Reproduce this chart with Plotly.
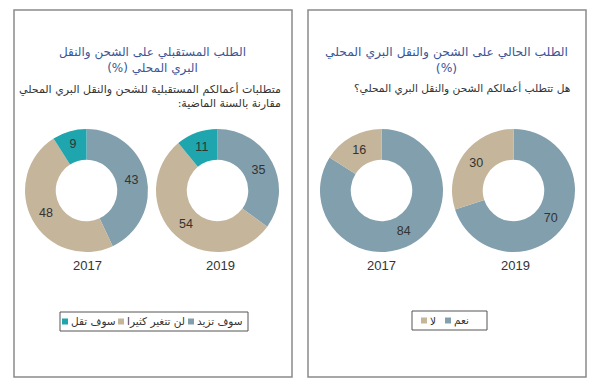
import plotly.graph_objects as go

# Data
years = ["2017", "2019"]

future_labels = ["سوف تزيد", "لن تتغير كثيرا", "سوف تقل"]
future_2017 = [43, 48, 9]
future_2019 = [35, 54, 11]
future_colors = ["#829fad", "#c5b59a", "#1fa5ad"]

current_labels = ["نعم", "لا"]
current_2017 = [84, 16]
current_2019 = [70, 30]
current_colors = ["#829fad", "#c5b59a"]

# The page body has an 8px margin; figure sized so that it fits the 600x391 window.
OFF = 8
W, H = 600 - 2 * OFF, 391 - 2 * OFF
RLM = "\u200f"


def px(x):
    return (x - OFF) / W


def py(y):
    return 1 - (y - OFF) / H


def dom(cx, cy, r):
    return dict(x=[px(cx - r), px(cx + r)], y=[py(cy + r), py(cy - r)])


fig = go.Figure()

pie_common = dict(
    hole=0.5,
    sort=False,
    direction="clockwise",
    rotation=0,
    textinfo="value",
    textposition="inside",
    insidetextorientation="horizontal",
    textfont=dict(family="Liberation Sans, Arial, sans-serif", size=12.5, color="#333333"),
    hoverinfo="label+value",
    showlegend=False,
)

R = 61.5
fig.add_trace(go.Pie(labels=future_labels, values=future_2017,
                     marker=dict(colors=future_colors, line=dict(width=0)),
                     domain=dom(86.5, 190.5, R), **pie_common))
fig.add_trace(go.Pie(labels=future_labels, values=future_2019,
                     marker=dict(colors=future_colors, line=dict(width=0)),
                     domain=dom(217.5, 190.5, R), **pie_common))
fig.add_trace(go.Pie(labels=current_labels, values=current_2017,
                     marker=dict(colors=current_colors, line=dict(width=0)),
                     domain=dom(381.5, 190.5, R), **pie_common))
fig.add_trace(go.Pie(labels=current_labels, values=current_2019,
                     marker=dict(colors=current_colors, line=dict(width=0)),
                     domain=dom(513.5, 190.5, R), **pie_common))

# Panel frames
for x0, x1 in [(14, 292), (308, 586)]:
    fig.add_shape(type="rect", xref="paper", yref="paper",
                  x0=px(x0), x1=px(x1), y0=py(377), y1=py(10),
                  line=dict(color="#8a8a8a", width=1.5), fillcolor="rgba(0,0,0,0)")

arfont = "DejaVu Sans, Noto Sans, sans-serif"
title_color = "#3b5798"

annotations = [
    dict(x=px(152), y=py(60), text="الطلب المستقبلي على الشحن والنقل<br>البري المحلي (%)" + RLM,
         xanchor="center", yanchor="middle", align="center",
         font=dict(family=arfont, size=12, color=title_color)),
    dict(x=px(283), y=py(96), text="متطلبات أعمالكم المستقبلية للشحن والنقل البري المحلي<br>مقارنة بالسنة الماضية:" + RLM,
         xanchor="right", yanchor="middle", align="right",
         font=dict(family=arfont, size=11, color="#333333")),
    dict(x=px(446), y=py(60), text="الطلب الحالي على الشحن والنقل البري المحلي<br>(%)",
         xanchor="center", yanchor="middle", align="center",
         font=dict(family=arfont, size=12.3, color=title_color)),
    dict(x=px(572), y=py(88), text="هل تتطلب أعمالكم الشحن والنقل البري المحلي؟" + RLM,
         xanchor="right", yanchor="middle", align="right",
         font=dict(family=arfont, size=10.6, color="#333333")),
]
for cx, yr in zip([87, 220, 381, 515], years * 2):
    annotations.append(dict(x=px(cx), y=py(265), text=yr, xanchor="center", yanchor="middle",
                            font=dict(family="Liberation Sans, Arial, sans-serif", size=13, color="#333333")))


# legends built from the label/colour arrays (right-to-left reading order)
def add_legend(labels, colors, box, sq_x, yc):
    x0, x1, y0, y1 = box
    fig.add_shape(type="rect", xref="paper", yref="paper", x0=px(x0), x1=px(x1), y0=py(y1), y1=py(y0),
                  line=dict(color="#555555", width=1), fillcolor="white")
    for lab, col, sx in zip(labels, colors, sq_x):
        fig.add_shape(type="rect", xref="paper", yref="paper", x0=px(sx), x1=px(sx + 6),
                      y0=py(yc + 3), y1=py(yc - 3), line=dict(width=0), fillcolor=col)
        annotations.append(dict(x=px(sx + 7), y=py(yc), text=lab, xanchor="left", yanchor="middle",
                                font=dict(family=arfont, size=10.5, color="#333333")))


add_legend(future_labels[::-1], future_colors[::-1], (60, 248, 312, 331), [62, 118, 188], 321.5)
add_legend(current_labels[::-1], current_colors[::-1], (412, 487, 311, 330), [421, 445], 320.5)

for a in annotations:
    a.update(xref="paper", yref="paper", showarrow=False)

fig.update_layout(
    width=W, height=H,
    margin=dict(l=0, r=0, t=0, b=0),
    paper_bgcolor="white", plot_bgcolor="white",
    annotations=annotations,
    showlegend=False,
)

fig.write_html("out.html")
